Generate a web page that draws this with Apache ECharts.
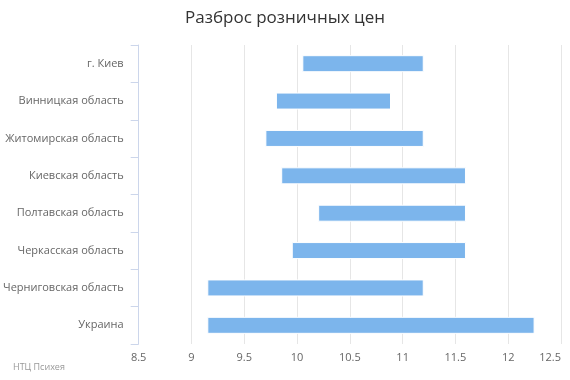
<!DOCTYPE html>
<html><head><meta charset="utf-8">
<script src="https://cdn.jsdelivr.net/npm/echarts@6/dist/echarts.min.js"></script>
<style>html,body{margin:0;padding:0;background:#fff}#c{width:570px;height:380px}</style>
</head><body><div id="c"></div>
<script>
var categories = ["г. Киев","Винницкая область","Житомирская область","Киевская область","Полтавская область","Черкасская область","Черниговская область","Украина"];
var lowValues  = [10.05, 9.8, 9.7, 9.85, 10.2, 9.95, 9.15, 9.15];
var highValues = [11.2, 10.89, 11.2, 11.6, 11.6, 11.6, 11.2, 12.25];
var xTicks = [8.5, 9, 9.5, 10, 10.5, 11, 11.5, 12, 12.5];

var FONT = "'Open Sans', sans-serif";
var chart = echarts.init(document.getElementById('c'), null, {renderer:'canvas'});
chart.setOption({
  animation:false,
  textStyle:{fontFamily:FONT},
  title:[{
    text:"Разброс розничных цен", left:'center', top:5,
    textStyle:{fontSize:17, fontWeight:'normal', color:'#333333', fontFamily:FONT}
  },{
    text:"НТЦ Психея", left:8, bottom:3,
    textStyle:{fontSize:9, fontWeight:'normal', color:'#999999', fontFamily:FONT}
  }],
  grid:{left:135, right:9, top:45, bottom:36, containLabel:false},
  xAxis:{
    type:'value', min:xTicks[0], max:xTicks[xTicks.length-1], interval:0.5,
    axisLine:{show:false}, axisTick:{show:false},
    splitLine:{show:true, lineStyle:{color:'#e6e6e6', width:1}},
    axisLabel:{color:'#666666', fontSize:11, margin:8, fontFamily:FONT, alignMaxLabel:'right',
      formatter:function(v){return String(Math.round(v*10)/10);}}
  },
  yAxis:{
    type:'category', data:categories, inverse:true,
    axisLine:{show:true, lineStyle:{color:'#ccd6eb'}},
    axisTick:{show:true, length:8, lineStyle:{color:'#ccd6eb'}},
    axisLabel:{color:'#666666', fontSize:11, margin:15, fontFamily:FONT},
    splitLine:{show:false}
  },
  series:[{
    type:'bar', stack:'r', data:lowValues, barWidth:17,
    itemStyle:{color:'rgba(0,0,0,0)'}, silent:true
  },{
    type:'bar', stack:'r', barWidth:17,
    data:highValues.map(function(h,i){return +(h-lowValues[i]).toFixed(4);}),
    itemStyle:{color:'#7cb5ec', borderColor:'#ffffff', borderWidth:1}
  }]
});
</script></body></html>
